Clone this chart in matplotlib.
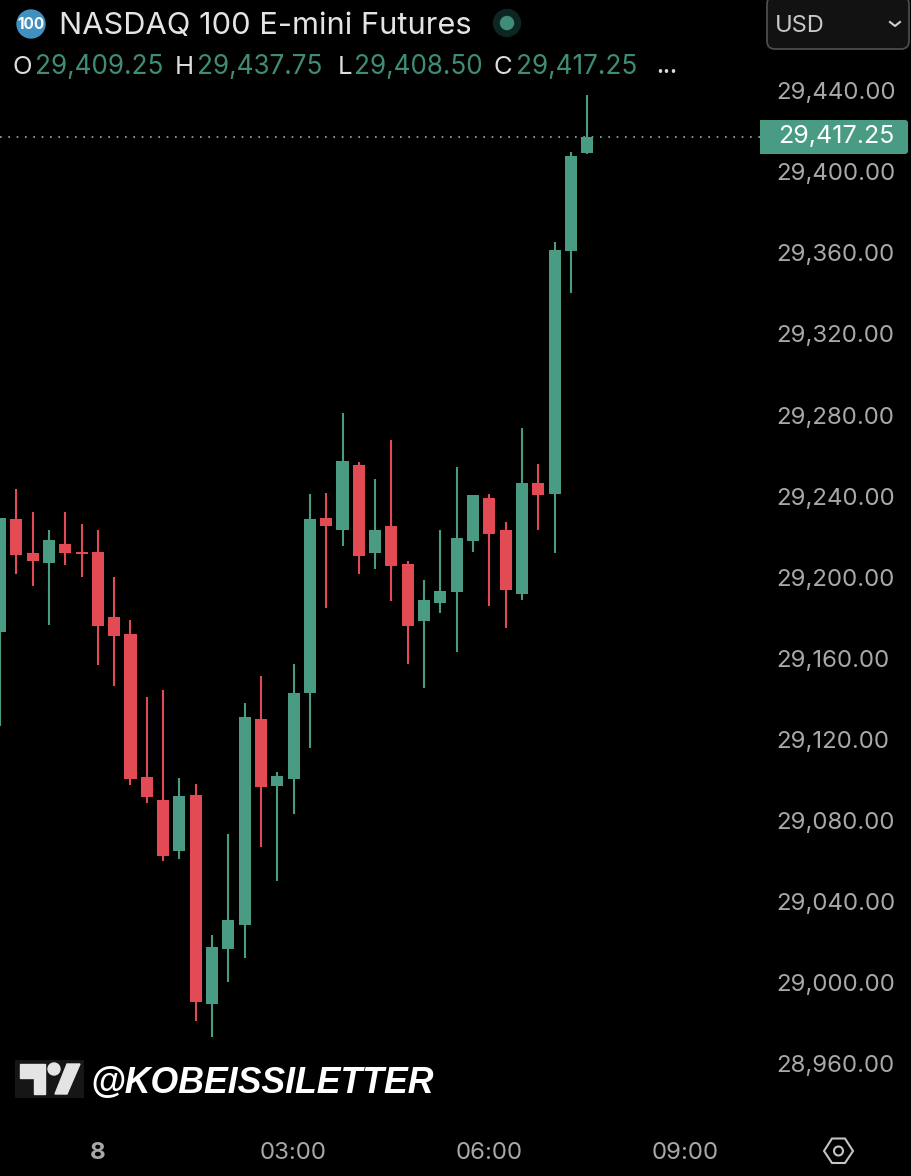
import matplotlib

matplotlib.use("Agg")
import matplotlib.pyplot as plt
from matplotlib.patches import Circle, FancyBboxPatch, Polygon, Rectangle

# 15 minute bars
opens = [29173.0, 29228.75, 29212.0, 29207.0, 29216.5, 29212.5, 29212.5, 29180.5, 29172.0,
         29101.5, 29090.25, 29065.0, 29092.75, 28989.5, 29016.75, 29028.5, 29130.0, 29097.0,
         29100.5, 29143.0, 29229.25, 29223.25, 29255.5, 29212.0, 29225.25, 29206.5, 29178.5,
         29187.25, 29192.75, 29218.0, 29239.0, 29223.25, 29191.75, 29246.5, 29241.0, 29361.0,
         29409.25]
highs = [29229.25, 29243.5, 29232.25, 29223.25, 29232.25, 29226.25, 29223.25, 29200.25, 29179.0,
         29141.0, 29144.5, 29101.0, 29098.0, 29023.5, 29073.5, 29138.0, 29151.25, 29104.0,
         29157.25, 29241.0, 29241.5, 29281.0, 29257.0, 29248.5, 29267.75, 29208.0, 29198.75,
         29223.25, 29254.5, 29240.5, 29241.0, 29227.25, 29273.5, 29256.0, 29365.25, 29409.75,
         29437.75]
lows = [29126.75, 29201.5, 29195.75, 29176.5, 29206.0, 29200.25, 29156.75, 29146.5, 29097.5,
        29088.75, 29060.0, 29061.0, 28981.25, 28973.25, 29000.5, 29012.25, 29067.0, 29050.25,
        29083.25, 29115.75, 29184.75, 29215.5, 29201.5, 29204.0, 29188.25, 29157.25, 29145.5,
        29182.5, 29163.25, 29212.5, 29186.0, 29175.0, 29188.75, 29223.25, 29212.0, 29340.25,
        29408.5]
closes = [29229.25, 29211.0, 29208.0, 29218.5, 29212.0, 29211.5, 29176.0, 29171.0, 29100.5,
          29091.75, 29062.5, 29092.25, 28990.5, 29017.75, 29031.0, 29131.0, 29096.5, 29102.0,
          29143.0, 29228.75, 29225.25, 29257.5, 29210.5, 29223.25, 29205.5, 29176.0, 29188.75,
          29193.25, 29219.5, 29240.5, 29221.5, 29193.75, 29246.5, 29240.5, 29361.5, 29407.75,
          29417.25]
price_ticks = [28960, 29000, 29040, 29080, 29120, 29160, 29200, 29240, 29280, 29320, 29360, 29400, 29440]
time_ticks = [6, 18, 30, 42]
time_labels = ["8", "03:00", "06:00", "09:00"]
last_price = 29417.25
ohlc_names = ["O", "H", "L", "C"]
ohlc_values = ["29,409.25", "29,437.75", "29,408.50", "29,417.25"]

GREEN = "#4a9b84"
RED = "#e34b54"
GREY = "#a8a8a8"
FONT = ["Inter", "DejaVu Sans"]

plt.rcParams["font.family"] = FONT

fig = plt.figure(figsize=(9.12, 11.76), dpi=100, facecolor="black")
ax = fig.add_axes([0, 51 / 1176, 760 / 912, 1125 / 1176], facecolor="black")

# candles
xs = list(range(len(opens)))
colors = [GREEN if c >= o else RED for o, c in zip(opens, closes)]
ax.vlines(xs, lows, highs, colors=colors, lw=1.5, zorder=2)
ax.bar(xs, [abs(c - o) for o, c in zip(opens, closes)], bottom=[min(o, c) for o, c in zip(opens, closes)],
       width=0.74, color=colors, zorder=3)
ax.axhline(last_price, color="#9fb0aa", lw=1.2, ls=(0, (1, 4)), zorder=1)

ax.set_xlim(0, 760 / 16.31)
ax.set_ylim(28929.9, 29484.67)
for s in ax.spines.values():
    s.set_visible(False)
ax.yaxis.tick_right()
ax.set_yticks(price_ticks)
ax.set_yticklabels([f"{p:,.2f}" for p in price_ticks])
ax.set_xticks(time_ticks)
ax.set_xticklabels(time_labels)
ax.tick_params(axis="y", length=0, pad=12, labelsize=17.3, labelcolor=GREY)
ax.tick_params(axis="x", length=0, pad=12.5, labelsize=17.3, labelcolor=GREY)
ax.get_xticklabels()[0].set_fontweight("bold")

# overlay in pixel coordinates for header, price tag, logo
ov = fig.add_axes([0, 0, 1, 1], facecolor="none")
ov.set_xlim(0, 912)
ov.set_ylim(1176, 0)
ov.axis("off")

ov.add_patch(Circle((31, 24), 14, color="#4290bf"))
ov.text(31, 24.5, "100", color="white", fontsize=11, fontweight="bold", ha="center", va="center")
ov.text(59, 26, "NASDAQ 100 E-mini Futures", color="#e4e4e4", fontsize=22.2, va="center")
ov.add_patch(Circle((507, 23), 13.5, color="#0e2621"))
ov.add_patch(Circle((507, 23), 6.5, color="#3f8c78"))

for name, value, xn, xv in zip(ohlc_names, ohlc_values, [13, 175, 338, 494], [35, 197, 354, 516]):
    ov.text(xn, 67, name, color="#dcdcdc", fontsize=18.5, va="center")
    ov.text(xv, 67, value, color="#3f8c78", fontsize=18.8, va="center")
ov.text(656, 67, "...", color="#dcdcdc", fontsize=15, va="center", fontweight="bold")

# currency box
ov.add_patch(FancyBboxPatch((767, -4), 142, 53, boxstyle="round,pad=0,rounding_size=8",
                            fc="#121212", ec="#4c4c4c", lw=1.3))
ov.text(775, 26, "USD", color="#c8c8c8", fontsize=17, va="center")
ov.plot([890, 895, 900], [22, 26, 22], color="#d0d0d0", lw=1.5)

# last price tag
ov.add_patch(FancyBboxPatch((760, 120), 148, 34, boxstyle="round,pad=0,rounding_size=3", fc=GREEN, ec="none"))
ov.add_patch(Rectangle((760, 120), 20, 34, fc=GREEN, ec="none"))
ov.text(778, 136.5, f"{last_price:,.2f}", color="white", fontsize=18, va="center")

# logo + handle
ov.add_patch(Rectangle((15, 1060), 69, 38, fc="#161616", ec="none"))
ov.add_patch(Polygon([(20, 1064), (45, 1064), (45, 1094), (34, 1094), (34, 1078), (20, 1078)], color="#e4e4e4"))
ov.add_patch(Circle((54, 1069), 6, color="#e4e4e4"))
ov.add_patch(Polygon([(67, 1064), (80, 1064), (67, 1094), (55, 1094)], color="#e4e4e4"))
ov.text(90, 1083, "@KOBEISSILETTER", color="white", fontsize=25.7, fontweight="bold", fontstyle="italic",
        family=["Liberation Sans"], va="center")

# settings hexagon
ov.add_patch(Polygon([(824, 1151), (832, 1138.5), (845, 1138.5), (853, 1151), (845, 1163), (832, 1163)],
                     fill=False, ec="#c4c4c4", lw=1.5))
ov.add_patch(Circle((838.5, 1151), 4.5, fill=False, ec="#c4c4c4", lw=1.5))

fig.savefig("out.png", dpi=100, facecolor="black")
plt.close(fig)
